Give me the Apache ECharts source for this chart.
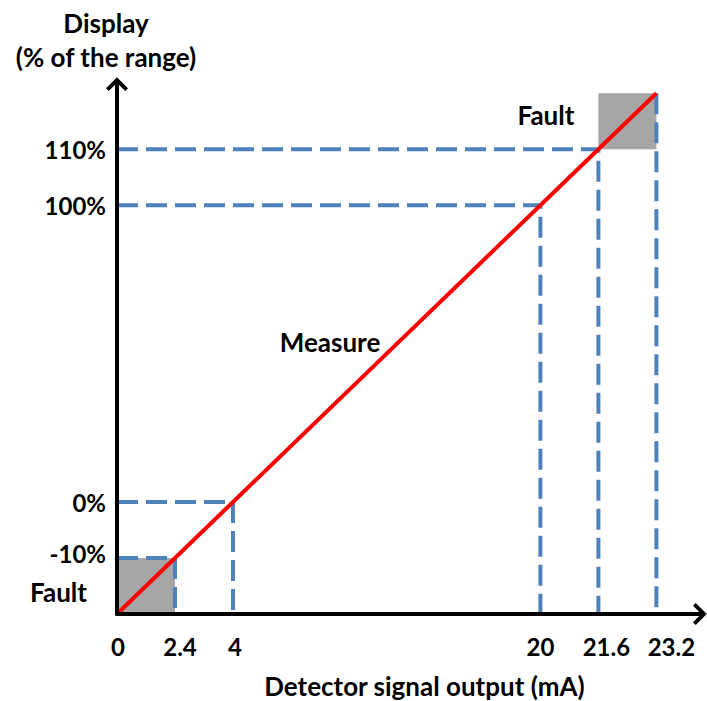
<!DOCTYPE html>
<html>
<head>
<meta charset="utf-8">
<script src="https://cdn.jsdelivr.net/npm/echarts@6/dist/echarts.min.js"></script>
<style>
  html, body { margin: 0; padding: 0; background: #ffffff; }
  #chart { width: 707px; height: 701px; }
</style>
</head>
<body>
<div id="chart"></div>
<script>
// ---------------- data ----------------
const signalMA   = [0, 2.4, 4, 20, 21.6, 23.2];          // detector signal output (mA)
const displayPct = [-20, -10, 0, 100, 110, 120];          // display (% of the range)
const xTickLabels = ['0', '2.4', '4', '20', '21.6', '23.2'];
const yTickValues = [-10, 0, 100, 110];
const yTickLabels = ['-10%', '0%', '100%', '110%'];
const guideMA  = [2.4, 4, 20, 21.6, 23.2];                // dashed reference lines
const guidePct = [-10, 0, 100, 110, null];                // null: vertical only
const faultZones = [                                       // [mA from, mA to, % from, % to]
  [0, 2.4, -20, -10],
  [21.6, 23.2, 110, 120]
];
const faultLabel = 'Fault';
const measureLabel = 'Measure';
const xAxisTitle = 'Detector signal output (mA)';
const yAxisTitle = 'Display\n(% of the range)';

// The original diagram is a schematic, not drawn to scale:
// each short span is drawn one unit long, the 4-20 mA / 0-100 % span 5.3 units.
const schematicUnits = [0, 1, 2, 7.3, 8.3, 9.3];
function warp(v, knots) {
  for (let i = 0; i < knots.length - 1; i++) {
    if (v <= knots[i + 1] || i === knots.length - 2) {
      const t = (v - knots[i]) / (knots[i + 1] - knots[i]);
      return schematicUnits[i] + t * (schematicUnits[i + 1] - schematicUnits[i]);
    }
  }
  return schematicUnits[0];
}
const xU = v => warp(v, signalMA);
const yU = v => warp(v, displayPct);

// ---------------- styles ----------------
const FONT = 'Lato';
const BLUE = '#4f81bd';
const unitX = 58, unitY = 56;
const gridLeft = 117, gridBottom = 87;
const xMax = 10.05, yMax = 9.46;
const chevron = 'path://M12 0 L24 12 L21 15 L12 6 L3 15 L0 12 Z';
const tickFont = { fontFamily: FONT, fontWeight: 'bold', fontSize: 24, color: '#000' };
const nameFont = { fontFamily: FONT, fontWeight: 'bold', fontSize: 26, color: '#000' };
const xLabelShift = [1, 5, 2, 0, 8, 15];     // px nudges of the x tick labels (as in the original)
const yLabelRaise = [5, 0, 0, 0];            // px nudges of the y tick labels

function indexOfValue(value, values) {
  for (let i = 0; i < values.length; i++) {
    if (Math.abs(values[i] - value) < 1e-6) return i;
  }
  return -1;
}

const xTickPos = signalMA.map(xU);
const yTickPos = yTickValues.map(yU);

const xRich = {}, yRich = {};
xLabelShift.forEach((s, i) => {
  xRich['x' + i] = Object.assign({}, tickFont, { padding: [0, 0, 0, 2 * s] });
});
yLabelRaise.forEach((s, i) => {
  yRich['y' + i] = Object.assign({}, tickFont, { padding: [0, 0, 2 * s, 0] });
});

const series = [];

// fault zones (grey)
series.push({
  type: 'line',
  data: [],
  silent: true,
  z: 1,
  markArea: {
    silent: true,
    itemStyle: { color: '#a6a6a6', opacity: 1 },
    data: faultZones.map((z, i) => [
      {
        coord: [xU(z[0]), yU(z[2])],
        label: Object.assign({
          show: true, position: 'left', formatter: faultLabel,
          distance: i === 0 ? 30 : 24,
          offset: i === 0 ? [0, 6] : [0, -6]
        }, nameFont)
      },
      { coord: [xU(z[1]), yU(z[3])] }
    ])
  }
});

// dashed guides
guideMA.forEach((ma, i) => {
  const pct = guidePct[i];
  const topPct = pct === null ? displayPct[signalMA.indexOf(ma)] : pct;
  const pts = [];
  if (pct !== null) pts.push([0, yU(pct)]);
  pts.push([xU(ma), yU(topPct)]);
  pts.push([xU(ma), 0]);
  series.push({
    type: 'line',
    data: pts,
    symbol: 'none',
    silent: true,
    z: 2,
    lineStyle: { color: BLUE, width: 4, type: [21, 8], cap: 'butt' }
  });
});

// measure line
series.push({
  type: 'line',
  name: measureLabel,
  data: signalMA.map((ma, i) => [xU(ma), yU(displayPct[i])]),
  symbol: 'none',
  silent: true,
  z: 3,
  lineStyle: { color: '#ff0000', width: 4 }
});

const option = {
  backgroundColor: '#ffffff',
  animation: false,
  grid: {
    left: gridLeft, bottom: gridBottom,
    width: xMax * unitX, height: yMax * unitY,
    containLabel: false, outerBoundsMode: 'none'
  },
  xAxis: {
    type: 'value', min: 0, max: xMax, z: 5,
    name: xAxisTitle, nameLocation: 'middle', nameGap: 59,
    nameTextStyle: Object.assign({}, nameFont, { padding: [0, 0, 0, 32] }),
    axisLine: {
      show: true, onZero: false,
      symbol: ['none', chevron], symbolSize: [22, 15],
      lineStyle: { color: '#000', width: 4 }
    },
    axisTick: { show: false },
    splitLine: { show: false },
    axisLabel: Object.assign({}, tickFont, {
      customValues: xTickPos,
      margin: 20,
      rich: xRich,
      formatter: v => {
        const i = indexOfValue(v, xTickPos);
        return i < 0 ? '' : '{x' + i + '|' + xTickLabels[i] + '}';
      }
    })
  },
  yAxis: {
    type: 'value', min: 0, max: yMax, z: 5,
    name: yAxisTitle, nameLocation: 'end', nameGap: 10,
    nameTextStyle: Object.assign({}, nameFont, { lineHeight: 34, padding: [0, 22, 0, 0], align: 'center' }),
    axisLine: {
      show: true, onZero: false,
      symbol: ['none', chevron], symbolSize: [22, 17],
      lineStyle: { color: '#000', width: 4 }
    },
    axisTick: { show: false },
    splitLine: { show: false },
    axisLabel: Object.assign({}, tickFont, {
      customValues: yTickPos,
      margin: 11,
      rich: yRich,
      formatter: v => {
        const i = indexOfValue(v, yTickPos);
        return i < 0 ? '' : '{y' + i + '|' + yTickLabels[i] + '}';
      }
    })
  },
  graphic: [{
    type: 'text',
    x: 330, y: 342,
    style: Object.assign({
      text: measureLabel, align: 'center', verticalAlign: 'middle'
    }, { fontFamily: FONT, fontWeight: 'bold', fontSize: 26, fill: '#000' })
  }],
  series: series
};

const chart = echarts.init(document.getElementById('chart'), null, { renderer: 'svg' });
chart.setOption(option);
</script>
</body>
</html>
